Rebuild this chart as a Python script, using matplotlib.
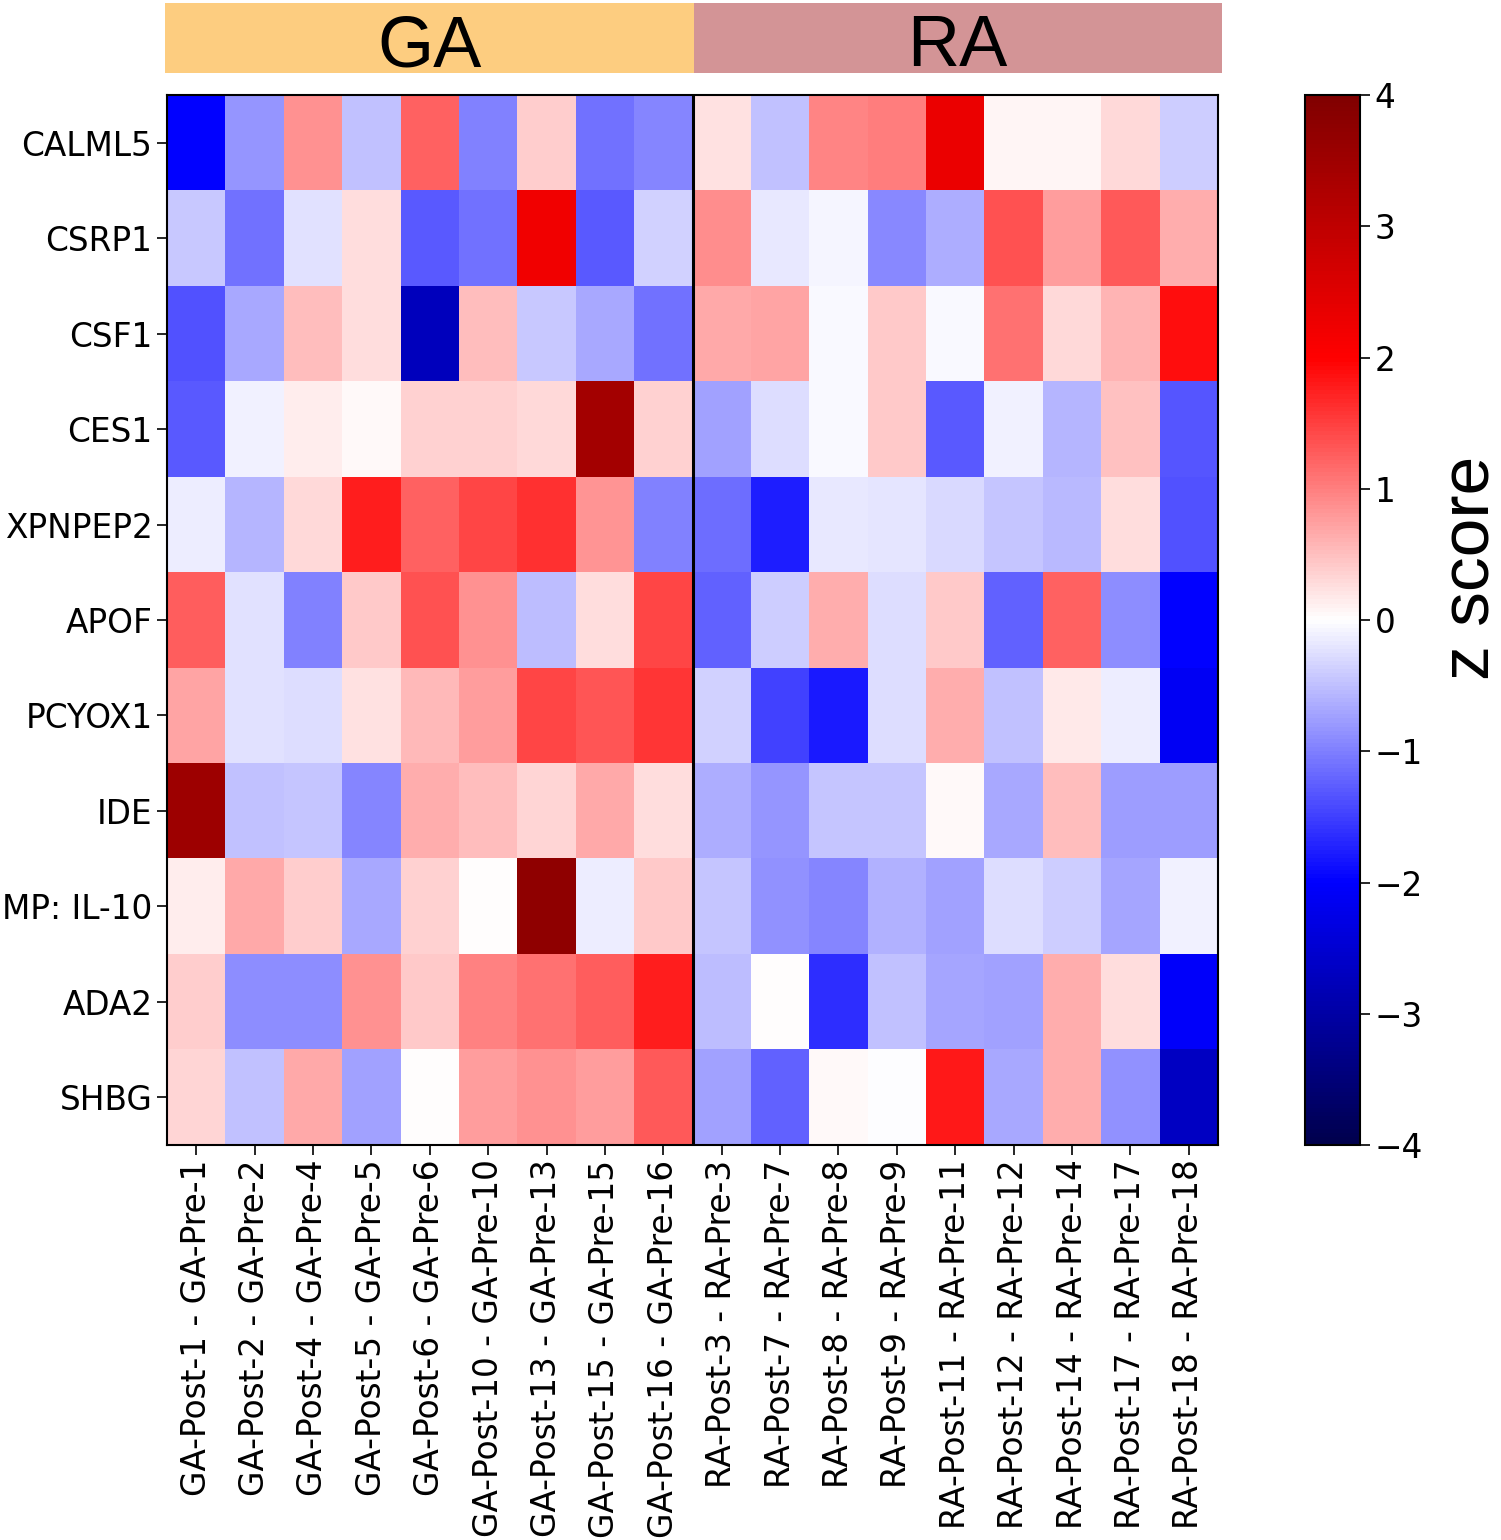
import numpy as np
import matplotlib
matplotlib.use("Agg")
import matplotlib.pyplot as plt

genes = ["CALML5", "CSRP1", "CSF1", "CES1", "XPNPEP2", "APOF", "PCYOX1",
         "IDE", "MP: IL-10", "ADA2", "SHBG"]

ga_ids = [1, 2, 4, 5, 6, 10, 13, 15, 16]
ra_ids = [3, 7, 8, 9, 11, 12, 14, 17, 18]
samples = (["GA-Post-%d - GA-Pre-%d" % (i, i) for i in ga_ids] +
           ["RA-Post-%d - RA-Pre-%d" % (i, i) for i in ra_ids])

groups = ["GA", "RA"]
group_colors = ["#FDCD80", "#D39496"]

# z scores, rows = genes, cols = samples
calml5 = [-2.0, -0.82, 0.86, -0.47, 1.22, -1.0, 0.4, -1.12, -0.94,
          0.23, -0.47, 0.94, 1.02, 2.3, 0.08, 0.08, 0.31, -0.39]
csrp1 = [-0.43, -1.1, -0.24, 0.27, -1.3, -1.1, 2.2, -1.3, -0.35,
         0.9, -0.16, -0.08, -0.92, -0.63, 1.37, 0.78, 1.3, 0.63]
csf1 = [-1.37, -0.67, 0.51, 0.27, -2.73, 0.51, -0.43, -0.67, -1.12,
        0.67, 0.7, -0.04, 0.43, -0.04, 1.1, 0.29, 0.59, 1.88]
ces1 = [-1.3, -0.12, 0.13, 0.04, 0.35, 0.37, 0.29, 3.41, 0.37,
        -0.75, -0.27, -0.04, 0.43, -1.3, -0.12, -0.59, 0.47, -1.33]
xpnpep2 = [-0.13, -0.59, 0.31, 1.78, 1.22, 1.45, 1.6, 0.82, -0.98,
           -1.14, -1.76, -0.16, -0.2, -0.31, -0.45, -0.55, 0.26, -1.37]
apof = [1.28, -0.24, -1.0, 0.43, 1.37, 0.86, -0.51, 0.27, 1.45,
        -1.22, -0.39, 0.63, -0.26, 0.43, -1.22, 1.22, -0.9, -2.0]
pcyox1 = [0.7, -0.24, -0.27, 0.23, 0.55, 0.75, 1.45, 1.33, 1.57,
          -0.35, -1.49, -1.8, -0.27, 0.63, -0.47, 0.16, -0.13, -2.11]
ide = [3.5, -0.47, -0.45, -0.94, 0.63, 0.51, 0.34, 0.68, 0.26,
       -0.63, -0.82, -0.45, -0.45, 0.04, -0.68, 0.51, -0.78, -0.78]
il10 = [0.13, 0.68, 0.4, -0.67, 0.35, 0.0, 3.73, -0.13, 0.43,
        -0.45, -0.86, -0.94, -0.6, -0.73, -0.26, -0.39, -0.7, -0.12]
ada2 = [0.4, -0.89, -0.9, 0.86, 0.43, 0.98, 1.1, 1.28, 1.78,
        -0.51, 0.0, -1.65, -0.47, -0.7, -0.73, 0.65, 0.27, -2.05]
shbg = [0.34, -0.47, 0.67, -0.75, 0.0, 0.78, 0.86, 0.76, 1.3,
        -0.73, -1.25, 0.05, -0.02, 1.8, -0.67, 0.63, -0.86, -2.67]

data = np.array([calml5, csrp1, csf1, ces1, xpnpep2, apof, pcyox1,
                 ide, il10, ada2, shbg])

W, H = 1501, 1540
fig = plt.figure(figsize=(W / 100, H / 100), dpi=100)

def box(x0, y0, x1, y1):
    # pixel box -> figure fraction
    return [x0 / W, 1 - y1 / H, (x1 - x0) / W, (y1 - y0) / H]

# main heatmap
ax = fig.add_axes(box(167, 95, 1218, 1145))
im = ax.imshow(data, cmap="seismic", vmin=-4, vmax=4, aspect="auto",
               interpolation="nearest")
ax.set_xticks(range(len(samples)))
ax.set_xticklabels(samples, rotation=90, fontsize=23.6)
ax.set_yticks(range(len(genes)))
ax.set_yticklabels(genes, fontsize=23.6)
ax.tick_params(length=7, width=1.2)
ax.axvline(len(ga_ids) - 0.5, color="black", lw=2.2)
for s in ax.spines.values():
    s.set_linewidth(1.5)

# group banner
bx = fig.add_axes(box(165, 3, 1222, 73))
n_ga, n_ra = len(ga_ids), len(ra_ids)
bx.barh(0, n_ga, left=0, height=1, color=group_colors[0])
bx.barh(0, n_ra, left=n_ga, height=1, color=group_colors[1])
bx.text(n_ga / 2, -0.03, groups[0], ha="center", va="center_baseline",
        fontsize=52, family="Liberation Sans")
bx.text(n_ga + n_ra / 2, -0.03, groups[1], ha="center", va="center_baseline",
        fontsize=52, family="Liberation Sans")
bx.set_xlim(0, n_ga + n_ra)
bx.set_ylim(-0.5, 0.5)
bx.axis("off")

# colorbar
cax = fig.add_axes(box(1305, 95, 1360, 1145))
cb = fig.colorbar(im, cax=cax, ticks=range(-4, 5))
cb.ax.tick_params(labelsize=23.6, length=7, width=1.2)
cb.outline.set_linewidth(1.5)
fig.text(1472 / W, 1 - 568 / H, "z score", rotation=90, ha="center",
         va="center", fontsize=50, family="Liberation Sans")

fig.savefig("out.png", dpi=100)
